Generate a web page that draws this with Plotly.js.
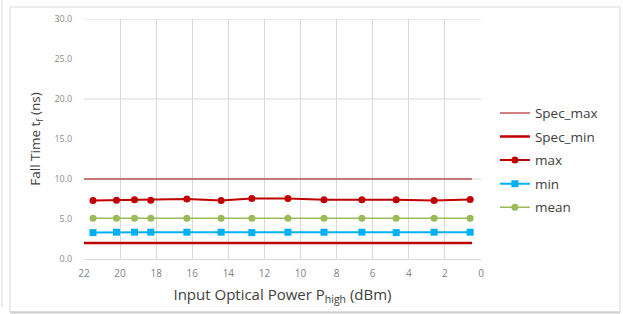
<!DOCTYPE html>
<html>
<head>
<meta charset="utf-8">
<script src="https://cdn.plot.ly/plotly-3.0.1.min.js"></script>
<style>html,body{margin:0;padding:0;background:#fff;}#chart{width:623px;height:314px;}</style>
</head>
<body>
<div id="chart"></div>
<script>
var xPower = [21.5, 20.2, 19.2, 18.3, 16.3, 14.4, 12.7, 10.7, 8.7, 6.6, 4.7, 2.6, 0.6];
var maxVals = [7.3, 7.35, 7.4, 7.35, 7.5, 7.3, 7.55, 7.55, 7.4, 7.4, 7.4, 7.3, 7.45];
var minVals = [3.3, 3.35, 3.35, 3.35, 3.35, 3.35, 3.3, 3.35, 3.35, 3.35, 3.3, 3.35, 3.35];
var meanVals = [5.1, 5.1, 5.1, 5.1, 5.1, 5.1, 5.1, 5.1, 5.1, 5.1, 5.1, 5.1, 5.1];
var specX = [22, 0.5];
var specMax = [10, 10];
var specMin = [2, 2];
var yTickVals = [0, 5, 10, 15, 20, 25, 30];
var yTickText = ["0.0", "5.0", "10.0", "15.0", "20.0", "25.0", "30.0"];
var yGridVals = [10, 20, 30];

var red = "#c00000", blue = "#00b0f0", green = "#9bbb59";
var traces = [
  {x: specX, y: specMax, name: "Spec_max", mode: "lines", line: {color: "#a80000", width: 1.2}, legendgroup: "a"},
  {x: specX, y: specMin, name: "Spec_min", mode: "lines", line: {color: red, width: 2.5}, legendgroup: "b"},
  {x: xPower, y: maxVals, name: "max", mode: "lines+markers", line: {color: red, width: 2}, marker: {color: red, size: 7, symbol: "circle"}, legendgroup: "c"},
  {x: xPower, y: minVals, name: "min", mode: "lines+markers", line: {color: blue, width: 2}, marker: {color: blue, size: 7, symbol: "square"}, legendgroup: "d"},
  {x: xPower, y: meanVals, name: "mean", mode: "lines+markers", line: {color: green, width: 1.5}, marker: {color: green, size: 7, symbol: "circle"}, legendgroup: "e"}
];

var shapes = yGridVals.map(function (v) {
  return {type: "line", xref: "paper", yref: "y", x0: 0, x1: 1, y0: v, y1: v, line: {color: "#d9d9d9", width: 1}, layer: "below"};
});
shapes.push({type: "rect", xref: "paper", yref: "paper", x0: -0.1864, x1: 1.3501, y0: -0.2208, y1: 1.05, line: {color: "#d9d9d9", width: 1}, layer: "below"});
shapes.push({type: "line", xref: "paper", yref: "paper", x0: -0.1864, x1: 1.3501, y0: -0.2229, y1: -0.2229, line: {color: "#d0d0d0", width: 2}, layer: "below"});
shapes.push({type: "line", xref: "paper", yref: "paper", x0: -0.2065, x1: -0.2065, y0: -0.20, y1: 1.08, line: {color: "#d9d9d9", width: 1}, layer: "below"});

var layout = {
  width: 623, height: 314,
  margin: {l: 84, r: 142, t: 19, b: 55, pad: 0},
  paper_bgcolor: "#fff", plot_bgcolor: "#fff",
  font: {family: "'Open Sans', Lato, sans-serif", color: "#595959"},
  showlegend: true,
  legend: {x: 1.035, xanchor: "left", y: 0.672, yanchor: "top", font: {size: 13.5, color: "#404040"}, tracegroupgap: 3, bgcolor: "rgba(0,0,0,0)"},
  xaxis: {
    range: [22, 0], dtick: 2, tick0: 0, showgrid: true, gridcolor: "#d9d9d9", gridwidth: 1,
    zeroline: false, showline: true, linecolor: "#d9d9d9", ticks: "outside", ticklen: 5, tickcolor: "rgba(0,0,0,0)",
    tickfont: {size: 10, color: "#7f7f7f"},
    title: {text: "Input Optical Power P<sub>high</sub> (dBm)", font: {size: 15, color: "#404040"}, standoff: 10}
  },
  yaxis: {
    range: [0, 30], tickvals: yTickVals, ticktext: yTickText, showgrid: false,
    zeroline: false, showline: false, ticks: "outside", ticklen: 9, tickcolor: "rgba(0,0,0,0)",
    tickfont: {size: 9, color: "#8c8c8c"},
    title: {text: "Fall Time t<sub>f</sub> (ns)", font: {size: 13.5, color: "#404040"}, standoff: 10}
  },
  shapes: shapes
};

Plotly.newPlot("chart", traces, layout, {displayModeBar: false, staticPlot: true});
</script>
</body>
</html>
